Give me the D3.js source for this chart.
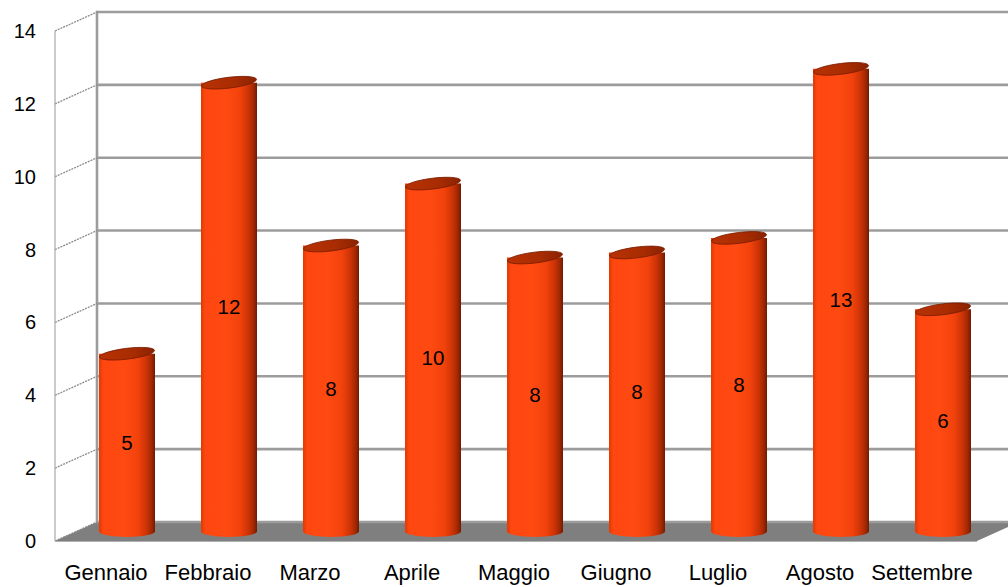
<!DOCTYPE html>
<html>
<head>
<meta charset="utf-8">
<script src="https://cdn.jsdelivr.net/npm/d3@7"></script>
<style>
  html, body { margin: 0; padding: 0; background: #fff; }
  svg { display: block; }
  text { font-family: "Liberation Sans", Arial, sans-serif; fill: #000; }
</style>
</head>
<body>
<div id="chart"></div>
<script>
// Monthly values and axis ticks
const months = ["Gennaio", "Febbraio", "Marzo", "Aprile", "Maggio", "Giugno", "Luglio", "Agosto", "Settembre"];
const values = [4.88, 12.32, 7.85, 9.55, 7.52, 7.66, 8.06, 12.7, 6.1];
const yTicks = [0, 2, 4, 6, 8, 10, 12, 14];

const W = 1008, H = 587;
const svg = d3.select("#chart").append("svg").attr("width", W).attr("height", H);

// Oblique 3D frame: front plane plus a depth offset toward the back wall
const front = { left: 55, right: 973, bottom: 541, top: 31 };
const depth = { dx: 42, dy: -19 };

const x = d3.scaleBand().domain(months).range([front.left, front.right]).padding(0);
const y = d3.scaleLinear().domain([0, 14]).range([front.bottom, front.top]);

// project a (screen x, value, depth fraction) to screen coords
const px = (sx, d) => sx + depth.dx * d;
const py = (v, d) => y(v) + depth.dy * d;

const defs = svg.append("defs");
const body = defs.append("linearGradient").attr("id", "cyl").attr("x1", "0").attr("x2", "1").attr("y1", "0").attr("y2", "0");
[[0, "#e23a02"], [0.08, "#ff4710"], [0.45, "#ff4a12"], [0.7, "#f2420c"], [0.86, "#c83206"], [0.95, "#9a2602"], [1, "#6e1a00"]]
  .forEach(([o, c]) => body.append("stop").attr("offset", o).attr("stop-color", c));
const cap = defs.append("linearGradient").attr("id", "cap").attr("x1", "0").attr("x2", "1").attr("y1", "0").attr("y2", "0");
[[0, "#b83204"], [0.6, "#a82c02"], [1, "#8a2200"]]
  .forEach(([o, c]) => cap.append("stop").attr("offset", o).attr("stop-color", c));

const grid = "#9c9c9c";

// Floor (runs a little past the last category band)
const x0 = front.left, x1 = front.right + 4;
svg.append("path")
  .attr("d", `M${x0},${py(0,0)}L${x1},${py(0,0)}L${px(x1,1)},${py(0,1)}L${px(x0,1)},${py(0,1)}Z`)
  .attr("fill", "#7f7f7f");

// Back wall gridlines
svg.append("g").selectAll("line").data(yTicks).join("line")
  .attr("x1", px(x0, 1)).attr("x2", W + 20)
  .attr("y1", d => py(d, 1)).attr("y2", d => py(d, 1))
  .attr("stroke", grid).attr("stroke-width", 2.6);

// Back wall left edge
svg.append("line")
  .attr("x1", px(x0, 1)).attr("x2", px(x0, 1))
  .attr("y1", py(14, 1) - 1.3).attr("y2", py(0, 1))
  .attr("stroke", grid).attr("stroke-width", 2.6);

// Side wall tick lines
svg.append("g").selectAll("line").data(yTicks).join("line")
  .attr("x1", x0).attr("y1", d => py(d, 0))
  .attr("x2", px(x0, 1)).attr("y2", d => py(d, 1))
  .attr("stroke", "#8a8a8a").attr("stroke-width", 1.3)
  .attr("stroke-dasharray", "2,1");

// Front vertical axis and base line
svg.append("line").attr("x1", x0).attr("x2", x0).attr("y1", py(14, 0)).attr("y2", py(0, 0))
  .attr("stroke", "#a8a8a8").attr("stroke-width", 1.2);
svg.append("line").attr("x1", x0).attr("x2", x1).attr("y1", py(0, 0) + 0.5).attr("y2", py(0, 0) + 0.5)
  .attr("stroke", "#b0b0b0").attr("stroke-width", 1.2);

// Y tick labels
svg.append("g").selectAll("text").data(yTicks).join("text")
  .attr("x", 36).attr("y", d => py(d, 0))
  .attr("dy", "0.35em").attr("text-anchor", "end")
  .attr("font-size", 20).text(d => d);

// Cylinders, standing at mid-depth
const bw = 56, rx = bw / 2, ry = 5.4, tilt = -7;
const bars = svg.append("g").selectAll("g").data(months.map((m, i) => ({ m, v: values[i] }))).join("g");
const cx = d => px(x(d.m) + x.bandwidth() / 2, 0.5);

bars.append("path")
  .attr("d", d => {
    const c = cx(d), yb = py(0, 0.5), yt = py(d.v, 0.5);
    return `M${c - rx},${yt}L${c - rx},${yb}A${rx},${ry} 0 0 0 ${c + rx},${yb}L${c + rx},${yt}Z`;
  })
  .attr("fill", "url(#cyl)");

bars.append("ellipse")
  .attr("cx", 0).attr("cy", 0).attr("rx", rx - 0.3).attr("ry", ry)
  .attr("transform", d => `translate(${cx(d)},${py(d.v, 0.5)}) rotate(${tilt})`)
  .attr("fill", "url(#cap)")
  .attr("stroke", "#7a1c00").attr("stroke-width", 0.8);

// Value labels
bars.append("text")
  .attr("x", d => cx(d))
  .attr("y", d => (py(d.v, 0.5) + py(0, 0.5)) / 2)
  .attr("dy", "0.35em").attr("text-anchor", "middle")
  .attr("font-size", 20.5)
  .text(d => Math.round(d.v));

// Category labels
svg.append("g").selectAll("text").data(months).join("text")
  .attr("x", d => x(d) + x.bandwidth() / 2)
  .attr("y", 572).attr("dy", "0.35em").attr("text-anchor", "middle")
  .attr("font-size", 22).text(d => d);
</script>
</body>
</html>
